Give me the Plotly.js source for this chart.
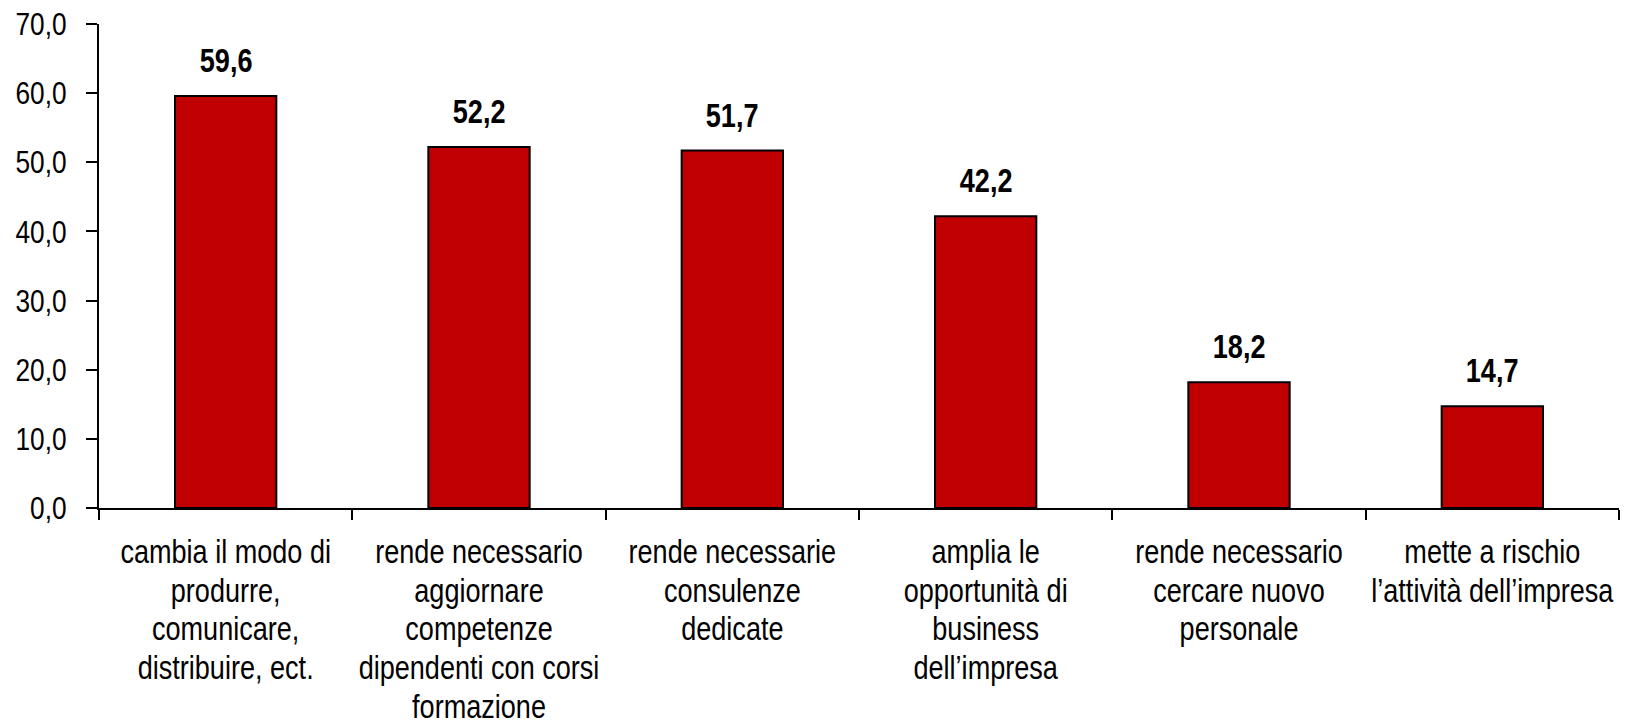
<!DOCTYPE html>
<html>
<head>
<meta charset="utf-8">
<script src="https://cdn.plot.ly/plotly-3.0.1.min.js"></script>
<style>html,body{margin:0;padding:0;background:#fff;}#chart{width:1629px;height:720px;}</style>
</head>
<body>
<div id="chart"></div>
<script>
const categories = [
  "cambia il modo di<br>produrre,<br>comunicare,<br>distribuire, ect.",
  "rende necessario<br>aggiornare<br>competenze<br>dipendenti con corsi<br>formazione",
  "rende necessarie<br>consulenze<br>dedicate",
  "amplia le<br>opportunità di<br>business<br>dell\u2019impresa",
  "rende necessario<br>cercare nuovo<br>personale",
  "mette a rischio<br>l\u2019attività dell\u2019impresa"
];
const values = [59.6, 52.2, 51.7, 42.2, 18.2, 14.7];
const yTicks = [0, 10, 20, 30, 40, 50, 60, 70];

const FONT = "'Liberation Sans', Arial, sans-serif";
const NARROW = 0.82;      // emulate a narrow typeface
const LINE_EM = 1.18;     // tighter line spacing for wrapped labels
const fmt = v => v.toFixed(1).replace('.', ',');

const trace = {
  type: 'bar',
  x: categories,
  y: values,
  width: 0.4,
  marker: {color: '#C00000', line: {color: '#000000', width: 2}},
  hoverinfo: 'skip'
};

const annotations = values.map((v, i) => ({
  x: categories[i], y: v, xref: 'x', yref: 'y',
  text: '<b>' + fmt(v) + '</b>',
  showarrow: false, yanchor: 'bottom', yshift: 15,
  font: {family: FONT, size: 33, color: '#000'}
}));

const layout = {
  width: 1629, height: 720,
  margin: {l: 99, r: 10, t: 24, b: 212},
  paper_bgcolor: '#fff', plot_bgcolor: '#fff',
  separators: ',.',
  showlegend: false,
  font: {family: FONT, size: 33, color: '#000'},
  xaxis: {
    type: 'category',
    showline: true, linecolor: '#000', linewidth: 2,
    ticks: 'outside', ticklen: 10, tickwidth: 2, tickcolor: '#000',
    tickson: 'boundaries',
    tickangle: 0,
    showgrid: false, zeroline: false,
    tickfont: {family: FONT, size: 33, color: '#000'},
    ticklabelstandoff: 13
  },
  yaxis: {
    range: [0, 70],
    tickvals: yTicks,
    tickformat: '.1f',
    showline: true, linecolor: '#000', linewidth: 2,
    ticks: 'outside', ticklen: 11, tickwidth: 2, tickcolor: '#000',
    showgrid: false, zeroline: false,
    tickfont: {family: FONT, size: 32, color: '#000'},
    ticklabelstandoff: 13
  },
  annotations: annotations
};

function narrowText() {
  document.querySelectorAll('#chart svg text').forEach(t => {
    const lines = t.querySelectorAll('tspan.line');
    lines.forEach((el, k) => { el.setAttribute('dy', (k * LINE_EM).toFixed(3) + 'em'); });
    const targets = lines.length ? Array.from(lines) : [t];
    targets.forEach(el => {
      const len = el.getComputedTextLength();
      if (len > 0) {
        el.setAttribute('textLength', (len * NARROW).toFixed(2));
        el.setAttribute('lengthAdjust', 'spacingAndGlyphs');
      }
    });
  });
}

Plotly.newPlot('chart', [trace], layout, {staticPlot: true, displayModeBar: false}).then(narrowText);
</script>
</body>
</html>
